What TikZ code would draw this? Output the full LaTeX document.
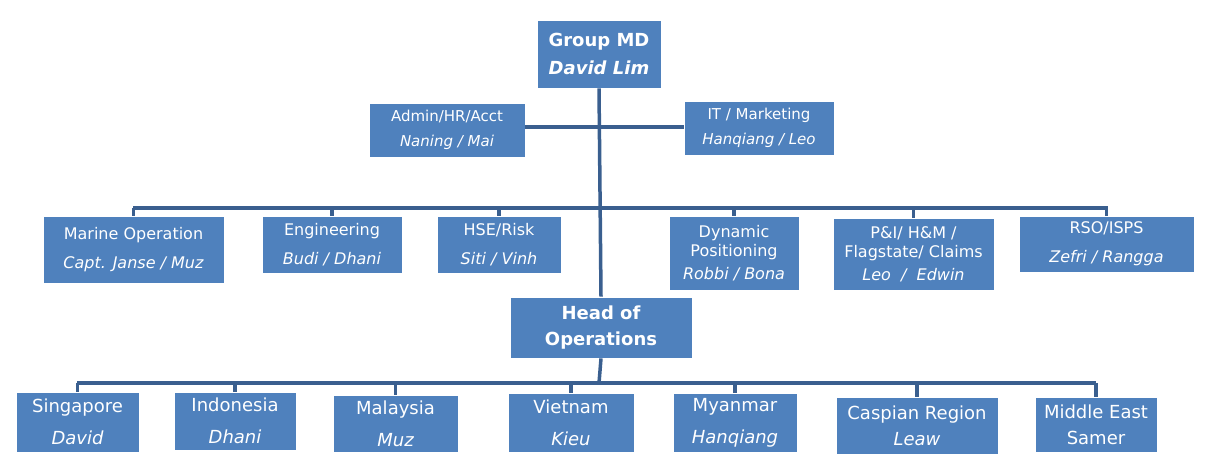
\documentclass[tikz,border=0pt]{standalone}
\usepackage{fontspec}
\setmainfont{DejaVu Sans}
\begin{document}
\begin{tikzpicture}[x=1pt,y=-1pt,
  bx/.style={draw=white,line width=0.8pt,fill={rgb,255:red,79;green,129;blue,189},text=white,align=center,inner sep=1pt},
  ln/.style={draw={rgb,255:red,58;green,95;blue,143},line width=3.5pt}]
\useasboundingbox (0,0) rectangle (1217,475);
\newcommand{\bxat}[6]{\node[bx,minimum width=#3-#2,minimum height=#5-#4,font=#6] (#1) at ({(#2+#3)/2},{(#4+#5)/2})}
\bxat{md}{537}{661}{20}{88}{\fontsize{18}{28}\selectfont\bfseries}{Group MD\\\itshape David Lim};
\bxat{hoo}{510}{692}{297}{358}{\fontsize{18}{26}\selectfont\bfseries}{Head of\\Operations};
% connectors
\coordinate (bar1l) at (133,208); \coordinate (bar1r) at (1108,208);
\coordinate (bar2l) at (77,383); \coordinate (bar2r) at (1096,383);
\coordinate (mid1) at (599,127);
\draw[ln] (md.south) -- (hoo.north);
\draw[ln] (bar1l) -- (bar1r);
\draw[ln] (hoo.south) -- (599,383);
\draw[ln] (bar2l) -- (bar2r);
\bxat{adm}{369}{525}{103}{157}{\fontsize{15}{25}\selectfont}{Admin/HR/Acct\\\itshape Naning / Mai};
\bxat{it}{684}{834}{101}{155}{\fontsize{15}{25}\selectfont}{IT / Marketing\\\itshape Hanqiang / Leo};
\draw[ln] (adm.east |- mid1) -- (it.west |- mid1);
\bxat{mo}{43}{224}{216}{283}{\fontsize{16}{29}\selectfont}{Marine Operation\\\itshape Capt. Janse / Muz};
\bxat{en}{262}{402}{216}{273}{\fontsize{16}{29}\selectfont}{Engineering\\\itshape Budi / Dhani};
\bxat{hse}{437}{561}{216}{273}{\fontsize{16}{29}\selectfont}{HSE/Risk\\\itshape Siti / Vinh};
\bxat{dp}{669}{799}{216}{290}{\fontsize{16}{19}\selectfont}{Dynamic\\Positioning\\[4pt]\itshape Robbi / Bona};
\bxat{pi}{833}{994}{218}{290}{\fontsize{16}{19}\selectfont}{P\&I/ H\&M /\\Flagstate/ Claims\\[4pt]\itshape Leo\ \ /\ \ Edwin};
\bxat{rso}{1019}{1194}{216}{272}{\fontsize{16}{29}\selectfont}{RSO/ISPS\\\itshape Zefri / Rangga};
\foreach \n in {mo,en,hse,dp,pi,rso} \draw[ln] (\n.north) -- (\n.north |- bar1l);
\bxat{sg}{16}{139}{392}{452}{\fontsize{18}{32}\selectfont}{Singapore\\\itshape David};
\bxat{id}{174}{296}{392}{450}{\fontsize{18}{32}\selectfont}{Indonesia\\\itshape Dhani};
\bxat{my}{333}{458}{395}{452}{\fontsize{18}{32}\selectfont}{Malaysia\\\itshape Muz};
\bxat{vn}{508}{634}{393}{452}{\fontsize{18}{32}\selectfont}{Vietnam\\\itshape Kieu};
\bxat{mm}{673}{797}{393}{452}{\fontsize{18}{32}\selectfont}{Myanmar\\\itshape Hanqiang};
\bxat{cr}{836}{998}{397}{454}{\fontsize{18}{26}\selectfont}{Caspian Region\\\itshape Leaw};
\bxat{me}{1035}{1157}{397}{452}{\fontsize{18}{26}\selectfont}{Middle East\\Samer};
\foreach \n in {sg,id,my,vn,mm,cr,me} \draw[ln] (\n.north) -- (\n.north |- bar2l);
\end{tikzpicture}
\end{document}
